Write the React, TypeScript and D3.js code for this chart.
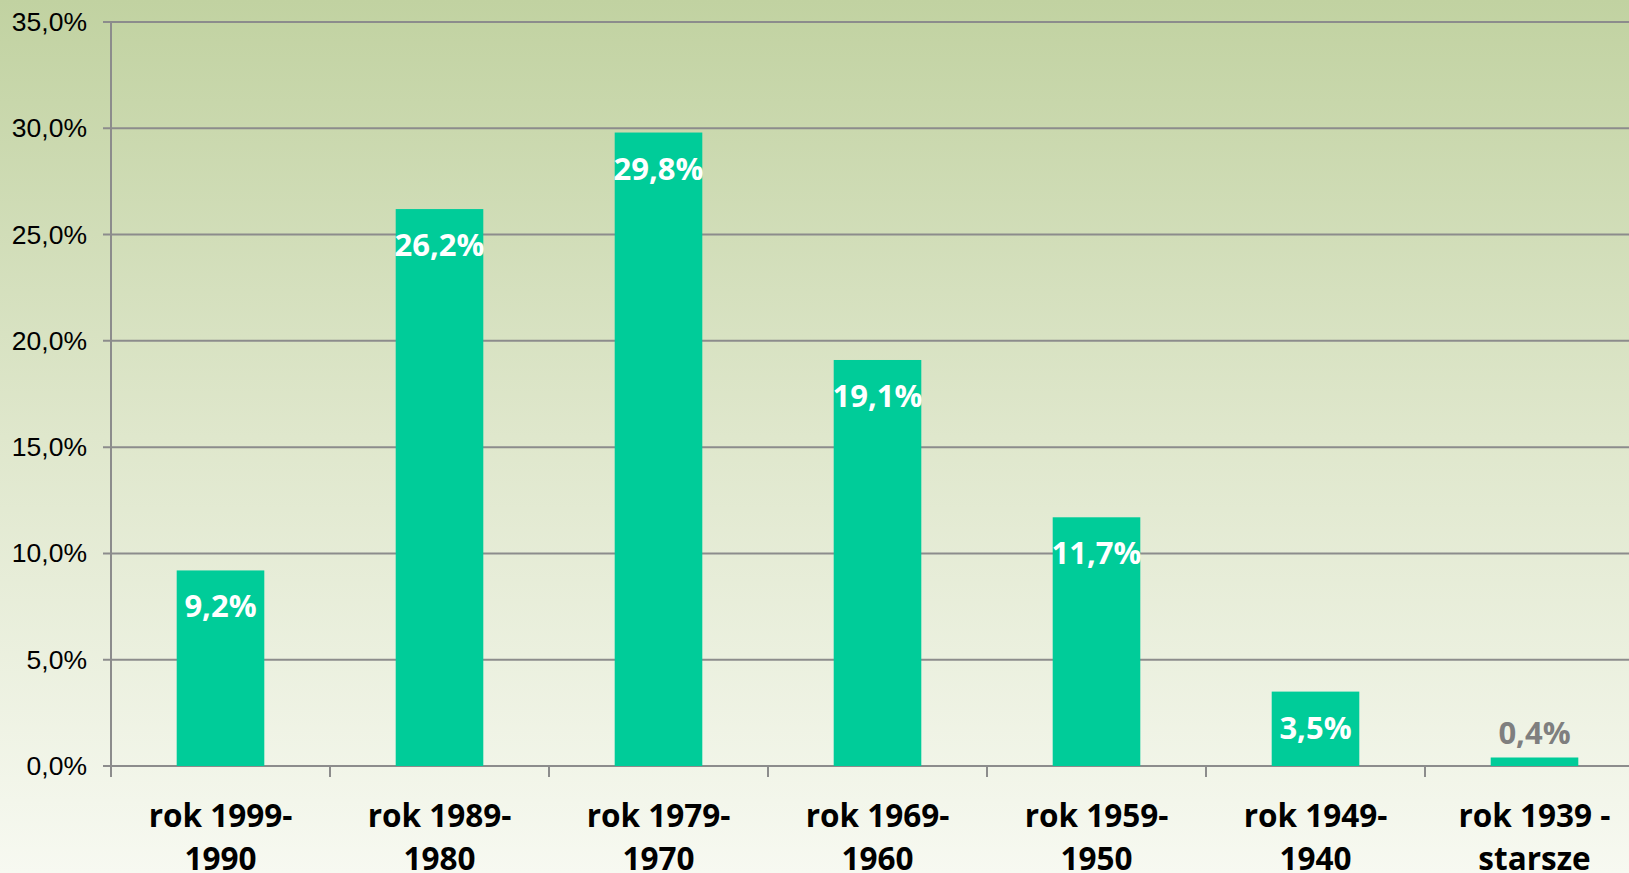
import React from "react";
import * as d3 from "d3";

const categories: string[][] = [
  ["rok 1999-", "1990"],
  ["rok 1989-", "1980"],
  ["rok 1979-", "1970"],
  ["rok 1969-", "1960"],
  ["rok 1959-", "1950"],
  ["rok 1949-", "1940"],
  ["rok 1939 -", "starsze"],
];
const values: number[] = [9.2, 26.2, 29.8, 19.1, 11.7, 3.5, 0.4];
const yTicks: number[] = [0, 5, 10, 15, 20, 25, 30, 35];

const W = 1629;
const H = 873;
const left = 111;
const bandW = 219;
const top = 22;
const bottom = 766;

const fmt = (v: number) => v.toFixed(1).replace(".", ",") + "%";

export default function App() {
  if (typeof document !== "undefined") document.body.style.margin = "0";
  const x = d3
    .scaleBand<number>()
    .domain(values.map((_, i) => i))
    .range([left, left + bandW * categories.length])
    .paddingInner(0.6)
    .paddingOuter(0.3);
  const xb = d3
    .scaleBand<number>()
    .domain(values.map((_, i) => i))
    .range([left, left + bandW * categories.length]);
  const y = d3.scaleLinear().domain([0, 35]).range([bottom, top]);
  const grid = "#8c8c8c";
  return (
    <svg width={W} height={H} style={{ display: "block" }}>
      <defs>
        <linearGradient id="bg" x1="0" y1="0" x2="0" y2="1">
          <stop offset="0" stopColor="#c1d2a1" />
          <stop offset="0.5" stopColor="#dfe7cc" />
          <stop offset="1" stopColor="#f7f9f1" />
        </linearGradient>
      </defs>
      <rect x={0} y={0} width={W} height={H} fill="url(#bg)" />
      {yTicks.map((t) => (
        <g key={t}>
          <line x1={103} x2={W} y1={y(t)} y2={y(t)} stroke={grid} strokeWidth={2} />
          <text
            x={87}
            y={y(t)}
            textAnchor="end"
            dominantBaseline="central"
            fontFamily="'Liberation Sans', Arial, sans-serif"
            fontSize={26.5}
            fill="#000"
          >
            {fmt(t)}
          </text>
        </g>
      ))}
      <line x1={left} x2={left} y1={top} y2={bottom + 11} stroke={grid} strokeWidth={2} />
      {values.map((_, i) => (
        <line
          key={"t" + i}
          x1={(xb(i) as number) + bandW}
          x2={(xb(i) as number) + bandW}
          y1={bottom}
          y2={bottom + 11}
          stroke={grid}
          strokeWidth={2}
        />
      ))}
      {values.map((v, i) => (
        <rect
          key={"b" + i}
          x={x(i)}
          y={y(v)}
          width={x.bandwidth()}
          height={bottom - y(v)}
          fill="#00cc99"
        />
      ))}
      {values.map((v, i) => {
        const cx = (x(i) as number) + x.bandwidth() / 2;
        const inside = bottom - y(v) > 60;
        return (
          <text
            key={"l" + i}
            x={cx}
            y={inside ? y(v) + 47 : y(v) - 13}
            textAnchor="middle"
            fontFamily="'Open Sans', sans-serif"
            fontWeight="bold"
            fontSize={31}
            fill={inside ? "#ffffff" : "#7f7f7f"}
          >
            {fmt(v)}
          </text>
        );
      })}
      {categories.map((c, i) => {
        const cx = (xb(i) as number) + bandW / 2;
        return (
          <text
            key={"c" + i}
            textAnchor="middle"
            fontFamily="'Open Sans', sans-serif"
            fontWeight="bold"
            fontSize={31.5}
            fill="#000"
          >
            <tspan x={cx} y={827}>{c[0]}</tspan>
            <tspan x={cx} y={870}>{c[1]}</tspan>
          </text>
        );
      })}
    </svg>
  );
}
